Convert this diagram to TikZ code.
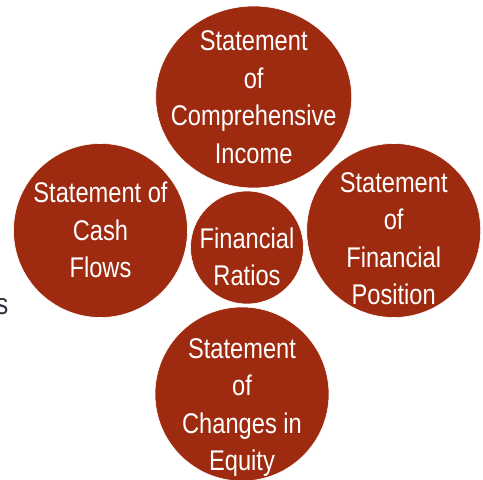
\documentclass[tikz,border=0pt]{standalone}
\usepackage{fontspec}
\setmainfont{Liberation Sans}[FakeStretch=0.83]
\usetikzlibrary{shapes.geometric}
\definecolor{disc}{HTML}{9E2A10}
\definecolor{strayink}{HTML}{2E3440}
\tikzset{
  discnode/.style={fill=disc, draw=white, line width=0.6pt, inner sep=0pt},
  round/.style={discnode, circle, minimum size=#1},
  oval/.style={discnode, ellipse},
  label/.style={text=white, align=center, inner sep=0pt, font=\fontsize{28.5pt}{37.5pt}\selectfont},
}
\begin{document}
\begin{tikzpicture}[x=1pt, y=-1pt]
  \useasboundingbox (0,0) rectangle (483,480);
  % stray partially cut letter at left
  \node[text=strayink, inner sep=0pt, anchor=base east, font=\fontsize{30pt}{36pt}\selectfont] (stray) at (8.5,314) {s};
  % discs
  \node[oval, minimum width=196pt, minimum height=182pt] (top) at (253.7,97) {};
  \node[round=174pt] (left) at (100.5,230.5) {};
  \node[round=174pt] (right) at (393.7,230.5) {};
  \node[round=113pt] (mid) at (247,247.5) {};
  \node[round=174pt] (bottom) at (242,394) {};
  % texts
  \node[label] (toptext) at (253.7,97.3) {Statement\\of\\Comprehensive\\Income};
  \node[label] (lefttext) at (100.5,230.3) {Statement of\\Cash\\Flows};
  \node[label] (midtext) at (247,257) {Financial\\Ratios};
  \node[label] (righttext) at (393.7,238.8) {Statement\\of\\Financial\\Position};
  \node[label] (bottomtext) at (242,407.6) {Statement\\of\\Changes in\\Equity};
\end{tikzpicture}
\end{document}
